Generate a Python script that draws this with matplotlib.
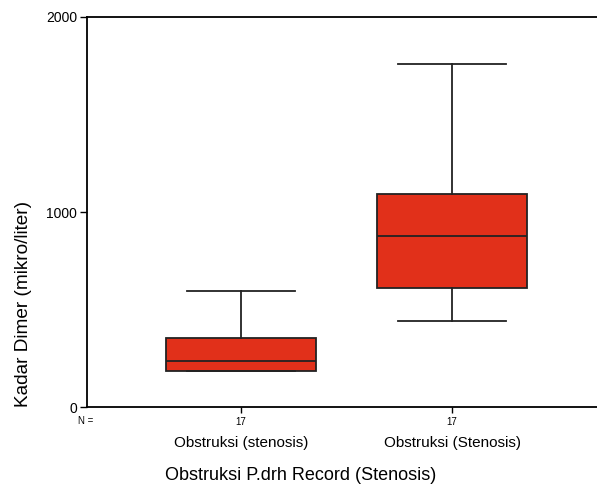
import matplotlib
matplotlib.use("Agg")
import matplotlib.pyplot as plt
import matplotlib.transforms as mtransforms

plt.rcParams['font.family'] = ['Liberation Sans', 'DejaVu Sans']

categories = ["Obstruksi (stenosis)", "Obstruksi (Stenosis)"]
n_counts = [17, 17]
whislo = [185, 441]
q1 = [185, 610]
med = [236, 877]
q3 = [354, 1092]
whishi = [595, 1759]
yticks = [0, 1000, 2000]

fig = plt.figure(figsize=(5.97, 4.86), dpi=100)
ax = fig.add_axes([87/597, 1-407/486, 1-87/597, (407-17)/486])

stats = []
for i in range(len(categories)):
    stats.append(dict(label=categories[i], whislo=whislo[i], q1=q1[i], med=med[i],
                      q3=q3[i], whishi=whishi[i], fliers=[]))
positions = list(range(1, len(categories)+1))
ax.bxp(stats, positions=positions, widths=0.71, capwidths=0.51, patch_artist=True,
       showfliers=False,
       boxprops=dict(facecolor="#E1301A", edgecolor="#222222", linewidth=1.3),
       medianprops=dict(color="#222222", linewidth=1.3),
       whiskerprops=dict(color="#222222", linewidth=1.3),
       capprops=dict(color="#222222", linewidth=1.3))

ax.set_xlim(0.27, 2.687)
ax.set_ylim(0, 2000)
ax.set_yticks(yticks)
ax.set_yticklabels([str(v) for v in yticks], fontsize=10)
ax.set_xticks(positions)
ax.set_xticklabels([str(n) for n in n_counts], fontsize=7)
ax.tick_params(axis='x', length=4, width=1, pad=3)
ax.tick_params(axis='y', length=5, width=1, pad=2)
for s in ['top', 'left', 'bottom']:
    ax.spines[s].set_linewidth(1.3)
ax.spines['right'].set_visible(False)

trans = mtransforms.blended_transform_factory(ax.transData, fig.transFigure)
for p, c in zip(positions, categories):
    ax.text(p, 1-443/486, c, transform=trans, ha='center', va='center', fontsize=11)
ax.text(78/597, 1-421/486, "N =", transform=fig.transFigure, ha='left', va='center', fontsize=7)

fig.text(301/597, 1-475/486, "Obstruksi P.drh Record (Stenosis)",
         ha='center', va='center', fontsize=13)
ax.set_ylabel("Kadar Dimer (mikro/liter)", fontsize=13.7)
ax.yaxis.set_label_coords((32-87)/510, (407-304)/390)

fig.savefig("out.png", dpi=100)
